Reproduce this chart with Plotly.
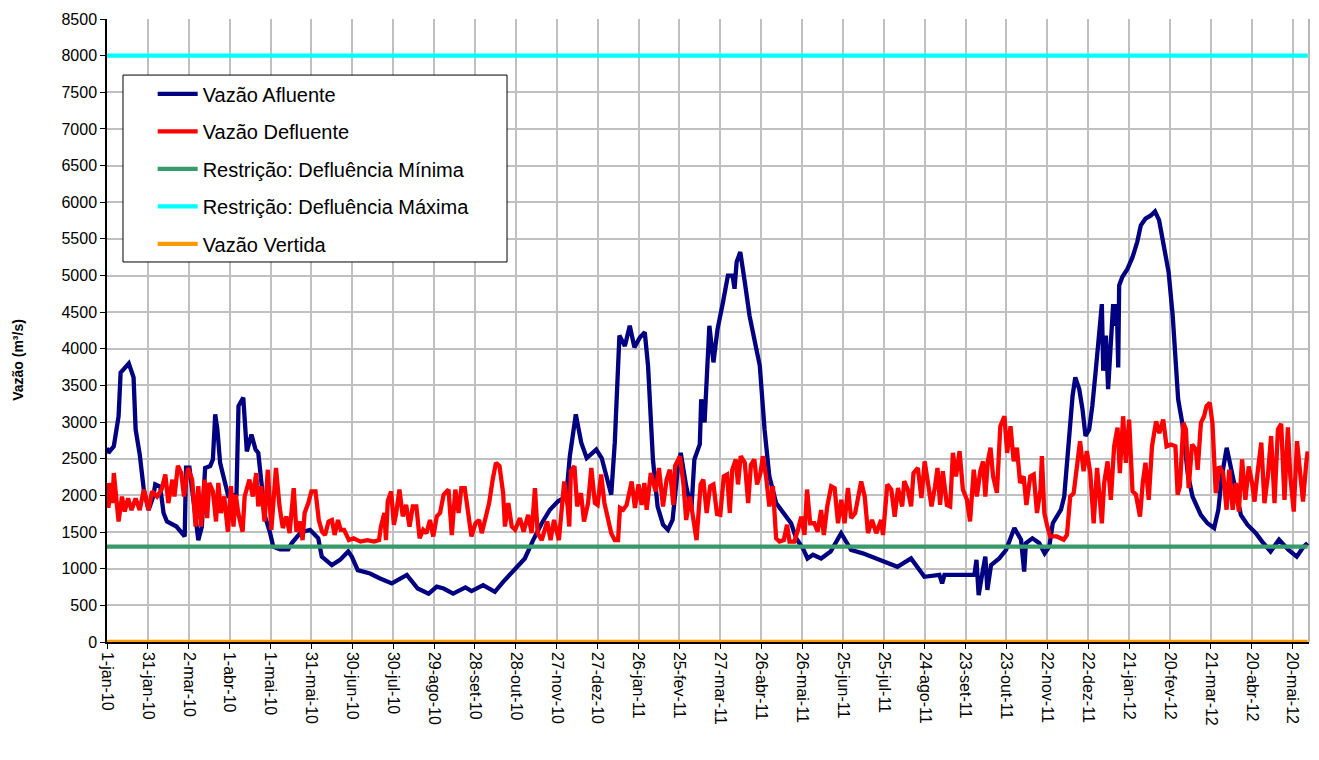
import pandas as pd
import plotly.graph_objects as go

BASE_DATE = "2010-01-01"

# ---- Vazão Afluente (day offset from 1-jan-10, m³/s) ----
afl_days = [0, 1, 5, 8.5, 10, 16, 19.5, 21, 24, 27, 30.5, 34, 35.4, 39, 41.5, 44, 51, 57, 58, 60.5,
            64, 67, 69.6, 72, 75.7, 77.7, 79.4, 81, 83, 86.7, 89, 95, 96.5, 100, 102.6, 106, 109, 111,
            113.6, 116, 119.7, 122, 127, 133, 135.6, 141.7, 144, 149, 155, 157.6, 165, 171, 177, 179.6,
            184, 193, 200, 209, 220, 228, 236, 242, 247, 254, 263, 267.5, 276, 284.6, 290.7, 295.6,
            306.6, 312.7, 319, 325, 331, 337, 339.6, 344, 348, 352, 359, 363, 366.5, 370, 372.6, 376,
            380, 383.6, 387, 391, 394.6, 397, 400.6, 404, 408, 411.6, 415, 419, 421, 425, 428.8, 431,
            435, 436, 438.5, 442, 445, 448, 452, 455.6, 459, 460.5, 462, 464.7, 468, 471.5, 475, 479,
            482.5, 486, 491, 497, 502, 505.7, 510.6, 514, 518, 524, 531, 538.7, 546, 554.6, 564, 571.7,
            580, 590, 599.8, 610.8, 612.8, 614.5, 636.5, 638, 639.6, 642.5, 644.5, 646, 648.7, 654.7,
            659.7, 665.8, 670.7, 673, 674.3, 679, 684, 688, 691.4, 694, 700, 702.4, 706, 708.5, 710.5,
            713.4, 715.8, 718, 720.7, 723, 725.6, 728, 730, 731, 733, 734.6, 736.6, 738.3, 739.8, 741,
            742, 742.7, 745, 748.8, 752.5, 756, 758.6, 762, 766, 769, 772, 774.5, 779, 782, 784.3, 786,
            789, 793, 796.5, 802.6, 807.5, 812.4, 815.5, 818, 821.6, 824.6, 828, 832, 836.8, 843, 847.6,
            853.8, 860, 867, 873, 878, 881]
afl_vals = [2650, 2580, 2670, 3080, 3675, 3800, 3610, 2900, 2560, 2080, 1800, 1990, 2150, 2120, 1760,
            1645, 1575, 1440, 2380, 2380, 1850, 1390, 1575, 2375, 2400, 2490, 3105, 2900, 2445, 2125,
            1990, 2010, 3220, 3335, 2600, 2830, 2625, 2580, 2125, 1710, 1485, 1300, 1265, 1265, 1350,
            1485, 1505, 1530, 1415, 1165, 1050, 1120, 1235, 1165, 980, 935, 870, 800, 915, 730, 660, 755,
            730, 660, 745, 695, 775, 685, 820, 915, 1140, 1390, 1620, 1805, 1920, 1985, 2535, 3105, 2720,
            2510, 2625, 2510, 2240, 2010, 2720, 4180, 4040, 4315, 4020, 4155, 4225, 3770, 2490, 1850, 1600,
            1530, 1665, 2400, 2580, 2125, 1805, 2490, 2700, 3310, 2995, 4315, 3815, 4270, 4635, 5000, 5000,
            4820, 5185, 5320, 4910, 4450, 4130, 3770, 2900, 2260, 1895, 1735, 1620, 1415, 1280, 1140, 1190,
            1140, 1235, 1485, 1255, 1210, 1140, 1095, 1025, 1140, 890, 915, 800, 915, 915, 1120, 640, 960,
            1165, 710, 1050, 1140, 1255, 1555, 1395, 960, 1350, 1415, 1350, 1210, 1300, 1620, 1805, 1985,
            2760, 3355, 3610, 3450, 3175, 2810, 2900, 3220, 3720, 4270, 4610, 3700, 4180, 3450, 4040, 4610,
            4315, 4610, 3745, 4865, 4980, 5090, 5250, 5460, 5685, 5775, 5820, 5875, 5755, 5500, 5045, 4450,
            3815, 3310, 2990, 2305, 1985, 1735, 1620, 1555, 1805, 2260, 2650, 2400, 2055, 1735, 1600, 1485,
            1370, 1235, 1395, 1255, 1165, 1300, 1350]

# ---- Vazão Defluente ----
defl_days = [0, 1, 3, 4, 5, 6.5, 8.5, 11, 13, 15.5, 18, 21, 24, 27, 30.5, 33, 36.7, 40, 42.8, 45, 48,
             49.5, 52, 54.5, 56.5, 59.5, 62.5, 65, 67, 69, 71.5, 73.5, 75, 77.7, 80, 81.7, 83.6, 86,
             88.7, 91, 92.8, 94.5, 96.3, 99.5, 101, 104.5, 107, 109.5, 111, 113, 115.6, 118, 120.6, 124,
             126.6, 129, 131.6, 134, 137, 139, 141.6, 143.5, 145, 147.7, 150, 153, 155.4, 157.8, 160,
             162.6, 165, 167, 169.5, 171.5, 174, 177.5, 181, 186, 191, 196, 199.6, 201, 203.5, 204.7,
             206, 208.5, 210.5, 212, 214.6, 217, 219.5, 222, 224.4, 227, 229.4, 232, 234.4, 237, 239.4,
             242, 244.4, 247, 250.6, 253, 255.6, 258, 260, 262.5, 265, 267.4, 270.4, 273, 275, 278, 280.4,
             283, 285.4, 288, 290.7, 292, 294.5, 297, 299.5, 303, 305.7, 309, 311.6, 314, 316, 319, 323,
             325.5, 328, 331.6, 335.5, 338, 339.2, 340.4, 343, 345, 347.8, 350, 353, 355.4, 358, 360,
             362.6, 365, 367.6, 370, 372.6, 375, 376.4, 378.8, 381.3, 385, 387.4, 390, 392.3, 394.3, 396,
             399, 402.6, 405, 408, 410.6, 413, 415.6, 416.8, 420.4, 423, 425, 427.7, 431, 432.6, 435.6,
             437.6, 440, 442.6, 445, 447.6, 450, 452.6, 455, 457, 458.8, 461.4, 463, 465, 468, 470.5,
             472.5, 475, 477, 479.5, 481.2, 483.6, 486, 488.6, 491, 493.5, 496.6, 499, 500.8, 504.4, 507,
             509.4, 511.8, 513.7, 516, 519, 521.5, 524, 526, 528.5, 531.4, 533.9, 536.4, 538.8, 541.2,
             543.7, 546, 549, 553.4, 556, 558.4, 561.3, 564.5, 568, 569.4, 572.6, 575.5, 578, 580.4,
             583.5, 585, 587.6, 590, 591.8, 595, 597.6, 600, 602.5, 605, 607.6, 609.4, 611.3, 613.3, 616.3,
             618.7, 620.7, 623, 625.6, 628, 631, 633.3, 636, 638.3, 640.8, 642.8, 644.5, 646.3, 648.3,
             650.2, 653, 655.5, 658.5, 660.5, 663, 665.3, 667.7, 670, 672.6, 674.6, 677.5, 680, 682.4, 685,
             686, 687.8, 689.7, 692, 697, 702, 704.4, 706.8, 709.3, 711.7, 714, 716.6, 719, 721.5, 724,
             726.5, 728, 730, 731.7, 734.2, 736.6, 739, 741.5, 743.2, 745.6, 747.6, 750, 752.5, 755, 758,
             760, 762, 764.4, 766.8, 769.8, 772.2, 775, 777.5, 780.7, 784, 785.6, 787.3, 789.8, 791.7,
             793.7, 796.2, 799, 800.3, 802.7, 805, 806.8, 809.2, 811.2, 813.6, 816, 819, 821.5, 823.5,
             826, 828.4, 830.5, 832.9, 835.3, 837.8, 840.2, 842, 844.5, 847, 849.3, 851.8, 854.2, 856.7,
             859.2, 861.6, 864, 866.5, 868.3, 870.8, 873.2, 875.2, 877.6, 880, 881]
defl_vals = [2170, 1830, 2170, 1895, 2305, 1985, 1645, 1985, 1780, 1960, 1800, 1960, 1800, 2080, 1800,
             2055, 1985, 2080, 2285, 1895, 2215, 1985, 2405, 2305, 1985, 2375, 2215, 1575, 2125, 1575,
             2215, 1690, 2170, 2055, 1645, 2170, 1760, 1985, 1505, 2125, 1575, 2010, 1760, 1505, 1985,
             2215, 1985, 2305, 1850, 2125, 1645, 2350, 1530, 2375, 1850, 1555, 1715, 1485, 2100, 1505,
             1645, 1390, 1760, 1895, 2055, 2055, 1665, 1505, 1460, 1645, 1665, 1460, 1665, 1530, 1530,
             1390, 1415, 1370, 1390, 1370, 1390, 1575, 1760, 1390, 1920, 2055, 1600, 1735, 2080, 1715,
             1870, 1575, 1850, 1850, 1415, 1530, 1485, 1665, 1440, 1715, 1760, 2010, 2080, 1460, 2080,
             1760, 2100, 2100, 1760, 1440, 1620, 1665, 1485, 1715, 1895, 2215, 2445, 2400, 2030, 1575,
             1895, 1575, 1530, 1690, 1505, 1735, 1485, 2100, 1485, 1390, 1645, 1390, 1665, 1390, 2190,
             1850, 1575, 2330, 2400, 1850, 2030, 1645, 1895, 2375, 1895, 1870, 2285, 1895, 1645, 1485,
             1390, 1390, 1830, 1805, 1870, 2190, 1830, 2150, 1870, 2170, 1805, 2305, 2055, 2375, 1850,
             2215, 2350, 1870, 2400, 2535, 2150, 1665, 1985, 1530, 1390, 2150, 2215, 1760, 2125, 2150,
             1745, 1735, 2260, 2285, 1760, 2350, 2490, 2150, 2535, 2445, 1895, 2420, 2490, 2150, 2305,
             2535, 2260, 1850, 2125, 1415, 1370, 1390, 1600, 1370, 1370, 1530, 1710, 1460, 2080, 1620,
             1620, 1505, 1800, 1460, 1850, 2125, 2100, 1620, 1940, 1620, 2100, 1690, 1760, 2190, 1985,
             1485, 1665, 1485, 1665, 1460, 2150, 2080, 1710, 2100, 1850, 2195, 2080, 1850, 2305, 2375,
             1965, 2465, 2170, 1850, 2125, 2375, 1870, 2330, 1870, 1850, 2580, 2260, 2605, 2080, 1940,
             1645, 2350, 1985, 2330, 2465, 1985, 2465, 2650, 2260, 2035, 2945, 3080, 2580, 2945, 2465,
             2650, 2170, 2260, 1870, 2260, 2285, 1760, 2080, 2535, 1760, 1600, 1440, 1440, 1395, 1460,
             1985, 2030, 2400, 2740, 2330, 2605, 2305, 1620, 2375, 2080, 1620, 2170, 2465, 1940, 2670,
             2925, 2305, 3080, 2445, 3035, 2055, 2010, 1710, 2170, 2445, 1940, 2670, 3010, 2850, 3035,
             2670, 2695, 2670, 2010, 2125, 2990, 2900, 2100, 2695, 2625, 2350, 2990, 3080, 3220, 3265,
             2975, 2030, 2395, 2305, 1805, 2350, 1805, 2170, 1780, 2490, 1940, 2395, 2170, 1915, 2350,
             2720, 1895, 2260, 2810, 1895, 2900, 2975, 1940, 2930, 2260, 1780, 2740, 2305, 1915, 2445,
             2600]

# ---- Restrições e vazão vertida ----
ref_dates = ["2010-01-01", "2012-05-31"]
defl_min = [1300, 1300]
defl_max = [8000, 8000]
vertida = [0, 0]

# ---- Eixo X ----
tick_dates = ["2010-01-01", "2010-01-31", "2010-03-02", "2010-04-01", "2010-05-01", "2010-05-31",
              "2010-06-30", "2010-07-30", "2010-08-29", "2010-09-28", "2010-10-28", "2010-11-27",
              "2010-12-27", "2011-01-26", "2011-02-25", "2011-03-27", "2011-04-26", "2011-05-26",
              "2011-06-25", "2011-07-25", "2011-08-24", "2011-09-23", "2011-10-23", "2011-11-22",
              "2011-12-22", "2012-01-21", "2012-02-20", "2012-03-21", "2012-04-20", "2012-05-20"]
tick_labels = ["1-jan-10", "31-jan-10", "2-mar-10", "1-abr-10", "1-mai-10", "31-mai-10", "30-jun-10",
               "30-jul-10", "29-ago-10", "28-set-10", "28-out-10", "27-nov-10", "27-dez-10",
               "26-jan-11", "25-fev-11", "27-mar-11", "26-abr-11", "26-mai-11", "25-jun-11",
               "25-jul-11", "24-ago-11", "23-set-11", "23-out-11", "22-nov-11", "22-dez-11",
               "21-jan-12", "20-fev-12", "21-mar-12", "20-abr-12", "20-mai-12"]

base = pd.Timestamp(BASE_DATE)
afl_x = base + pd.to_timedelta(afl_days, unit="D")
defl_x = base + pd.to_timedelta(defl_days, unit="D")

FONT = "Liberation Sans, Arial, sans-serif"
LW = 4.3

fig = go.Figure()
fig.add_trace(go.Scatter(x=afl_x, y=afl_vals, mode="lines", name="Vazão Afluente",
                         line=dict(color="#000080", width=LW), legendgroup="a"))
fig.add_trace(go.Scatter(x=defl_x, y=defl_vals, mode="lines", name="Vazão Defluente",
                         line=dict(color="#FF0000", width=LW), legendgroup="b"))
fig.add_trace(go.Scatter(x=ref_dates, y=defl_min, mode="lines", name="Restrição: Defluência Mínima",
                         line=dict(color="#379A68", width=LW), legendgroup="c"))
fig.add_trace(go.Scatter(x=ref_dates, y=defl_max, mode="lines", name="Restrição: Defluência Máxima",
                         line=dict(color="#00FFFF", width=LW), legendgroup="d"))
fig.add_trace(go.Scatter(x=ref_dates, y=vertida, mode="lines", name="Vazão Vertida",
                         line=dict(color="#FF9900", width=LW), legendgroup="e", cliponaxis=False))

# page body has an 8px margin: figure is sized/placed so the plot area lands at x 107..1309, y 19..642
fig.update_layout(
    width=1303, height=744,
    margin=dict(l=99, r=2, t=11, b=110),
    paper_bgcolor="white", plot_bgcolor="white",
    font=dict(family=FONT, size=16, color="black"),
    showlegend=True,
    legend=dict(x=0.038, y=0.911, xanchor="left", yanchor="top",
                bgcolor="rgba(0,0,0,0)", borderwidth=0, itemwidth=40,
                font=dict(family=FONT, size=20, color="black"),
                traceorder="grouped", tracegroupgap=8.5),
    shapes=[
        dict(type="rect", xref="paper", yref="paper", x0=0.0133, x1=0.3328, y0=0.610, y1=0.910,
             line=dict(color="black", width=1), fillcolor="white", layer="above"),
        dict(type="line", xref="paper", yref="paper", x0=1, x1=1, y0=0, y1=1,
             line=dict(color="#A0A0A0", width=1.5), layer="below"),
    ],
    annotations=[
        dict(text="<b>Vazão (m³/s)</b>", xref="paper", yref="paper", x=-0.074, y=0.453,
             xanchor="center", yanchor="middle", textangle=-90, showarrow=False,
             font=dict(family=FONT, size=14, color="black")),
    ],
)
fig.update_xaxes(
    type="date", range=["2010-01-01", "2012-06-01"],
    tickmode="array", tickvals=tick_dates, ticktext=tick_labels, tickangle=90,
    showgrid=True, gridcolor="#C0C0C0", gridwidth=1.5,
    showline=True, linecolor="black", linewidth=1.5,
    ticks="outside", ticklen=5, tickcolor="black",
    tickfont=dict(family=FONT, size=16, color="black"), zeroline=False,
)
fig.update_yaxes(
    range=[0, 8500], dtick=500, tick0=0, tickformat="d",
    showgrid=True, gridcolor="#C0C0C0", gridwidth=1.5,
    showline=True, linecolor="black", linewidth=1.5,
    ticks="outside", ticklen=5, tickcolor="black",
    tickfont=dict(family=FONT, size=16, color="black"), zeroline=False,
)

fig.write_html("out.html")
